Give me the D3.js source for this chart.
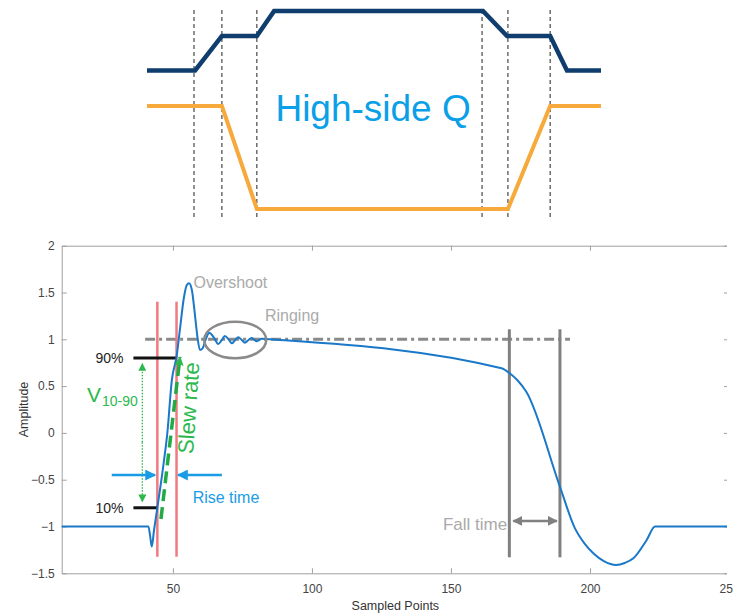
<!DOCTYPE html>
<html>
<head>
<meta charset="utf-8">
<script src="https://cdn.jsdelivr.net/npm/d3@7"></script>
<style>
  body { margin: 0; background: #fff; }
  text { font-family: "Liberation Sans", Arial, sans-serif; }
</style>
</head>
<body>
<div id="chart"></div>
<script>
// ---- data ----
// top schematic (time in arbitrary units 0..100, level 0..1)
const gateTime    = [0, 10.6, 16.5, 24.2, 28.0, 74.0, 79.3, 88.8, 92.5, 100];
const gateLevel   = [0.70, 0.70, 0.874, 0.874, 1, 1, 0.874, 0.874, 0.70, 0.70];
const qTime       = [0, 16.5, 24.2, 79.5, 88.8, 100];
const qLevel      = [0.52, 0.52, 0, 0, 0.52, 0.52];
const markerTimes = [10.35, 16.5, 24.2, 73.8, 79.5, 88.8];

// lower chart signal (sampled point, amplitude)
const samples = [10, 41.2, 41.8, 42.4, 43.2, 44.4, 46.5, 48, 49.6, 51.4, 52.5, 54, 55, 55.8, 56.8, 58, 58.8, 59.7, 60.6,
  61.8, 63.1, 64.7, 66.3, 67.5, 68.7, 70, 71.2, 72.3, 73.5, 74.7, 75.9, 77.1, 78.3, 79.2, 80.1, 81, 81.9, 84.9,
  168.2, 171.1, 174, 177.1, 189.2, 194.6, 198, 201.2, 205, 209.4, 212.5, 215.6, 220.4, 223.4, 250];
const amplitude = [-1, -1, -1.1, -1.215, -1.04, -0.8, -0.36, 0, 0.56, 0.83, 1.1, 1.455, 1.58, 1.6, 1.53, 1.24, 1.03, 0.886, 0.9,
  1.0, 1.07, 1.02, 0.95, 0.99, 1.035, 1.0, 0.957, 0.99, 1.021, 0.995, 0.964, 0.99, 1.014, 0.998, 0.979, 0.992, 1.006, 1.0,
  0.69, 0.637, 0.56, 0.44, -0.575, -1.02, -1.18, -1.286, -1.37, -1.411, -1.39, -1.34, -1.144, -1.0, -1];

const xTicks = [50, 100, 150, 200, 250];
const yTicks = [-1.5, -1, -0.5, 0, 0.5, 1, 1.5, 2];

const riseLines = [44.4, 51.3];     // red lines
const fallLines = [171.0, 189.2];   // gray lines
const levelMarks = [{label: "90%", v: 0.8, end: 51.3}, {label: "10%", v: -0.8, end: 44.4}];

// ---- svg ----
const W = 733, H = 614;
const svg = d3.select("#chart").append("svg")
  .attr("width", W).attr("height", H);

const defs = svg.append("defs");
function marker(id, color, size) {
  defs.append("marker")
    .attr("id", id)
    .attr("viewBox", "0 0 10 10")
    .attr("refX", 9).attr("refY", 5)
    .attr("markerWidth", size).attr("markerHeight", size)
    .attr("markerUnits", "userSpaceOnUse")
    .attr("orient", "auto-start-reverse")
    .append("path")
    .attr("d", "M0,0 L10,5 L0,10 z")
    .attr("fill", color);
}
marker("arBlue", "#1a9be6", 11);
marker("arGray", "#808080", 10);
marker("arGreen", "#2db84d", 9);
marker("arGreenS", "#2db84d", 8);

// ---- top schematic ----
const tx = d3.scaleLinear().domain([0, 100]).range([147, 601]);
const ty = d3.scaleLinear().domain([0, 1]).range([209, 11]);
const topG = svg.append("g");

topG.selectAll(".mk")
  .data(markerTimes)
  .enter().append("line")
  .attr("x1", d => tx(d)).attr("x2", d => tx(d))
  .attr("y1", ty(1.005)).attr("y2", ty(-0.056))
  .attr("stroke", "#222").attr("stroke-width", 1)
  .attr("stroke-dasharray", "4,3");

const topLine = d3.line().x(d => tx(d[0])).y(d => ty(d[1]));
topG.append("path")
  .attr("d", topLine(d3.zip(qTime, qLevel)))
  .attr("fill", "none").attr("stroke", "#f7a93b").attr("stroke-width", 4);
topG.append("path")
  .attr("d", topLine(d3.zip(gateTime, gateLevel)))
  .attr("fill", "none").attr("stroke", "#0e3d6e").attr("stroke-width", 4.5);

topG.append("text")
  .attr("x", tx(49.8)).attr("y", 121)
  .attr("text-anchor", "middle")
  .attr("fill", "#0aa0e8")
  .style("font-size", "37px")
  .text("High-side Q");

// ---- lower chart ----
const m = {left: 61.7, top: 245.7, right: 729, bottom: 573.3};
const x = d3.scaleLinear().domain([10, 250]).range([m.left, m.right]);
const y = d3.scaleLinear().domain([-1.5, 2]).range([m.bottom, m.top]);

// the source picture is cropped just left of the right axis
defs.append("clipPath").attr("id", "crop")
  .append("rect").attr("x", 0).attr("y", 0).attr("width", 727).attr("height", H);

const g = svg.append("g").attr("clip-path", "url(#crop)");

function styleAxis(sel) {
  sel.select(".domain").attr("stroke", "#a0a0a0");
  sel.selectAll(".tick line").attr("stroke", "#a0a0a0");
  sel.selectAll(".tick text").attr("fill", "#444").style("font-size", "12px")
    .style("font-family", '"Liberation Sans", Arial, sans-serif');
}

g.append("g")
  .attr("transform", `translate(0,${m.bottom})`)
  .call(d3.axisBottom(x).tickValues(xTicks).tickSizeInner(-5).tickSizeOuter(0).tickFormat(""))
  .call(styleAxis);
// x tick labels outside the crop (last one runs off the page like the source)
svg.append("g")
  .attr("transform", `translate(0,${m.bottom})`)
  .call(d3.axisBottom(x).tickValues(xTicks).tickSize(0).tickPadding(11))
  .call(styleAxis)
  .call(a => a.select(".domain").remove());
g.append("g")
  .attr("transform", `translate(0,${m.top})`)
  .call(d3.axisTop(x).tickValues(xTicks).tickSizeInner(-5).tickSizeOuter(0).tickFormat(""))
  .call(styleAxis);
g.append("g")
  .attr("transform", `translate(${m.left},0)`)
  .call(d3.axisLeft(y).tickValues(yTicks).tickSizeInner(-5).tickSizeOuter(0).tickPadding(7).tickFormat(d3.format("")))
  .call(styleAxis);
g.append("g")
  .attr("transform", `translate(${m.right},0)`)
  .call(d3.axisRight(y).tickValues(yTicks).tickSizeInner(-5).tickSizeOuter(0).tickFormat(""))
  .call(styleAxis);

// axis titles
svg.append("text")
  .attr("x", (m.left + m.right) / 2).attr("y", 610)
  .attr("text-anchor", "middle").attr("fill", "#333")
  .style("font-size", "12.5px")
  .text("Sampled Points");
svg.append("text")
  .attr("transform", `translate(28,${(m.top + m.bottom) / 2}) rotate(-90)`)
  .attr("text-anchor", "middle").attr("fill", "#333")
  .style("font-size", "12.5px")
  .text("Amplitude");

// steady level dash-dot
g.append("line")
  .attr("x1", x(40)).attr("x2", x(192.8))
  .attr("y1", y(1)).attr("y2", y(1))
  .attr("stroke", "#8a8a8a").attr("stroke-width", 3)
  .attr("stroke-dasharray", "10,4,3,4");

// red rise lines
g.selectAll(".rise")
  .data(riseLines)
  .enter().append("line")
  .attr("x1", d => x(d)).attr("x2", d => x(d))
  .attr("y1", y(1.402)).attr("y2", y(-1.323))
  .attr("stroke", "#f07a80").attr("stroke-width", 2.5);

// gray fall lines
g.selectAll(".fall")
  .data(fallLines)
  .enter().append("line")
  .attr("x1", d => x(d)).attr("x2", d => x(d))
  .attr("y1", y(1.107)).attr("y2", y(-1.329))
  .attr("stroke", "#808080").attr("stroke-width", 3);

// 90% / 10% marks
g.selectAll(".lvl")
  .data(levelMarks)
  .enter().append("line")
  .attr("x1", x(35.8)).attr("x2", d => x(d.end))
  .attr("y1", d => y(d.v)).attr("y2", d => y(d.v))
  .attr("stroke", "#111").attr("stroke-width", 3);
g.selectAll(".lvlText")
  .data(levelMarks)
  .enter().append("text")
  .attr("x", x(32.2)).attr("y", d => y(d.v) + 5)
  .attr("text-anchor", "end").attr("fill", "#222")
  .style("font-size", "14px")
  .text(d => d.label);

// signal
const sigLine = d3.line()
  .x(d => x(d[0])).y(d => y(d[1]))
  .curve(d3.curveMonotoneX);
g.append("path")
  .attr("d", sigLine(d3.zip(samples, amplitude)))
  .attr("fill", "none").attr("stroke", "#1a78c8").attr("stroke-width", 2);

// ringing ellipse
g.append("ellipse")
  .attr("cx", x(72.4)).attr("cy", y(0.993))
  .attr("rx", 31).attr("ry", 18.3)
  .attr("fill", "none").attr("stroke", "#8a8a8a").attr("stroke-width", 2.5);

g.append("text")
  .attr("x", x(57.4)).attr("y", y(1.55))
  .attr("fill", "#aaa").style("font-size", "16px")
  .text("Overshoot");
g.append("text")
  .attr("x", x(83.1)).attr("y", y(1.2))
  .attr("fill", "#aaa").style("font-size", "16px")
  .text("Ringing");

// V10-90 dotted arrow
g.append("line")
  .attr("x1", x(39)).attr("x2", x(39))
  .attr("y1", y(-0.1)).attr("y2", y(0.74))
  .attr("stroke", "#2db84d").attr("stroke-width", 1.3)
  .attr("stroke-dasharray", "1.5,1.5")
  .attr("marker-end", "url(#arGreenS)");
g.append("line")
  .attr("x1", x(39)).attr("x2", x(39))
  .attr("y1", y(-0.1)).attr("y2", y(-0.735))
  .attr("stroke", "#2db84d").attr("stroke-width", 1.3)
  .attr("stroke-dasharray", "1.5,1.5")
  .attr("marker-end", "url(#arGreenS)");
const vt = g.append("text")
  .attr("x", x(19.1)).attr("y", 401.7)
  .attr("fill", "#2db84d").style("font-size", "21px");
vt.append("tspan").text("V");
vt.append("tspan").attr("dy", 4.5).attr("dx", 1).style("font-size", "14px").text("10-90");

// slew rate dashed arrow
g.append("line")
  .attr("x1", x(45.7)).attr("y1", y(-0.92))
  .attr("x2", x(52.55)).attr("y2", y(0.81))
  .attr("stroke", "#22aa44").attr("stroke-width", 3.5)
  .attr("stroke-dasharray", "12,6")
  .attr("marker-end", "url(#arGreen)");
g.append("text")
  .attr("transform", `translate(${x(58.4)},${y(0.26)}) rotate(-86)`)
  .attr("text-anchor", "middle")
  .attr("fill", "#2db84d").style("font-size", "22px")
  .text("Slew rate");

// rise time arrows
g.append("line")
  .attr("x1", x(28)).attr("x2", x(43.6))
  .attr("y1", y(-0.45)).attr("y2", y(-0.45))
  .attr("stroke", "#1a9be6").attr("stroke-width", 2.5)
  .attr("marker-end", "url(#arBlue)");
g.append("line")
  .attr("x1", x(67.6)).attr("x2", x(51.8))
  .attr("y1", y(-0.45)).attr("y2", y(-0.45))
  .attr("stroke", "#1a9be6").attr("stroke-width", 2.5)
  .attr("marker-end", "url(#arBlue)");
g.append("text")
  .attr("x", x(57.1)).attr("y", y(-0.75))
  .attr("fill", "#1a9be6").style("font-size", "16px")
  .text("Rise time");

// fall time
g.append("line")
  .attr("x1", x(172.4)).attr("x2", x(188.1))
  .attr("y1", y(-0.94)).attr("y2", y(-0.94))
  .attr("stroke", "#808080").attr("stroke-width", 2.5)
  .attr("marker-start", "url(#arGray)")
  .attr("marker-end", "url(#arGray)");
g.append("text")
  .attr("x", x(170.2)).attr("y", y(-1.04))
  .attr("text-anchor", "end")
  .attr("fill", "#aaa").style("font-size", "17px")
  .text("Fall time");
</script>
</body>
</html>
